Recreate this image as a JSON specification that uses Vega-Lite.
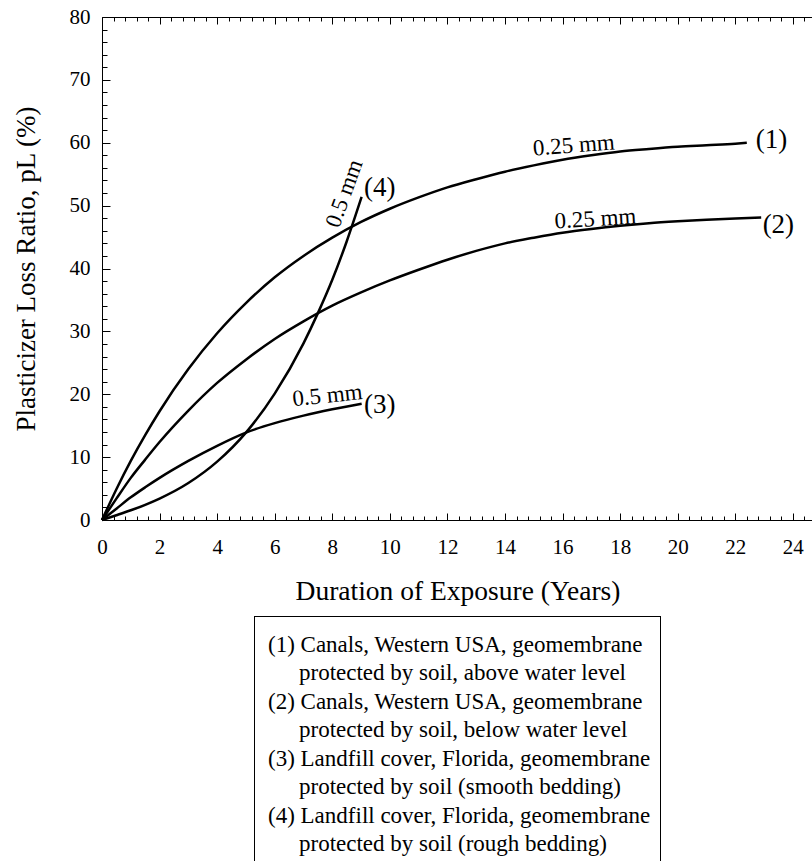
{
  "$schema": "https://vega.github.io/schema/vega-lite/v6.json",
  "background": "white",
  "padding": {"left": 12, "top": 6, "right": 0, "bottom": 0},
  "config": {
    "font": "Liberation Serif",
    "view": {"stroke": null},
    "axis": {"domainColor": "black", "tickColor": "black", "labelColor": "black", "titleColor": "black", "labelFont": "Liberation Serif", "titleFont": "Liberation Serif", "titleFontWeight": "normal", "grid": false, "domainWidth": 1, "tickWidth": 1},
    "text": {"font": "Liberation Serif", "color": "black"}
  },
  "datasets": {
    "curves": [
      {"curve": "1", "years": 0, "loss": 0}, {"curve": "1", "years": 0.5, "loss": 4.9}, {"curve": "1", "years": 1, "loss": 9.4}, {"curve": "1", "years": 1.5, "loss": 13.5}, {"curve": "1", "years": 2, "loss": 17.3}, {"curve": "1", "years": 3, "loss": 24.0}, {"curve": "1", "years": 4, "loss": 29.7}, {"curve": "1", "years": 5, "loss": 34.5}, {"curve": "1", "years": 6, "loss": 38.6}, {"curve": "1", "years": 7, "loss": 42.0}, {"curve": "1", "years": 8, "loss": 44.9}, {"curve": "1", "years": 9, "loss": 47.4}, {"curve": "1", "years": 10, "loss": 49.5}, {"curve": "1", "years": 11, "loss": 51.3}, {"curve": "1", "years": 12, "loss": 52.9}, {"curve": "1", "years": 13, "loss": 54.2}, {"curve": "1", "years": 14, "loss": 55.4}, {"curve": "1", "years": 15, "loss": 56.4}, {"curve": "1", "years": 16, "loss": 57.3}, {"curve": "1", "years": 17, "loss": 58.0}, {"curve": "1", "years": 18, "loss": 58.6}, {"curve": "1", "years": 19, "loss": 59.0}, {"curve": "1", "years": 20, "loss": 59.35}, {"curve": "1", "years": 21, "loss": 59.6}, {"curve": "1", "years": 22, "loss": 59.85}, {"curve": "1", "years": 22.4, "loss": 60.0},
      {"curve": "2", "years": 0, "loss": 0}, {"curve": "2", "years": 0.5, "loss": 3.4}, {"curve": "2", "years": 1, "loss": 6.7}, {"curve": "2", "years": 1.5, "loss": 9.6}, {"curve": "2", "years": 2, "loss": 12.4}, {"curve": "2", "years": 3, "loss": 17.4}, {"curve": "2", "years": 4, "loss": 21.8}, {"curve": "2", "years": 5, "loss": 25.5}, {"curve": "2", "years": 6, "loss": 28.8}, {"curve": "2", "years": 7, "loss": 31.6}, {"curve": "2", "years": 8, "loss": 34.1}, {"curve": "2", "years": 9, "loss": 36.2}, {"curve": "2", "years": 10, "loss": 38.1}, {"curve": "2", "years": 11, "loss": 39.8}, {"curve": "2", "years": 12, "loss": 41.4}, {"curve": "2", "years": 13, "loss": 42.8}, {"curve": "2", "years": 14, "loss": 44.0}, {"curve": "2", "years": 15, "loss": 44.9}, {"curve": "2", "years": 16, "loss": 45.7}, {"curve": "2", "years": 17, "loss": 46.3}, {"curve": "2", "years": 18, "loss": 46.8}, {"curve": "2", "years": 19, "loss": 47.2}, {"curve": "2", "years": 20, "loss": 47.5}, {"curve": "2", "years": 21, "loss": 47.75}, {"curve": "2", "years": 22, "loss": 47.95}, {"curve": "2", "years": 22.9, "loss": 48.1},
      {"curve": "3", "years": 0, "loss": 0}, {"curve": "3", "years": 0.5, "loss": 1.8}, {"curve": "3", "years": 1, "loss": 3.6}, {"curve": "3", "years": 1.5, "loss": 5.2}, {"curve": "3", "years": 2, "loss": 6.7}, {"curve": "3", "years": 3, "loss": 9.4}, {"curve": "3", "years": 4, "loss": 11.8}, {"curve": "3", "years": 5, "loss": 13.9}, {"curve": "3", "years": 6, "loss": 15.4}, {"curve": "3", "years": 7, "loss": 16.6}, {"curve": "3", "years": 8, "loss": 17.6}, {"curve": "3", "years": 9.02, "loss": 18.5},
      {"curve": "4", "years": 0, "loss": 0}, {"curve": "4", "years": 0.5, "loss": 0.76}, {"curve": "4", "years": 1, "loss": 1.55}, {"curve": "4", "years": 1.5, "loss": 2.42}, {"curve": "4", "years": 2, "loss": 3.41}, {"curve": "4", "years": 3, "loss": 5.88}, {"curve": "4", "years": 4, "loss": 9.28}, {"curve": "4", "years": 5, "loss": 13.9}, {"curve": "4", "years": 6, "loss": 20.1}, {"curve": "4", "years": 7, "loss": 28.1}, {"curve": "4", "years": 7.5, "loss": 32.9}, {"curve": "4", "years": 8, "loss": 38.2}, {"curve": "4", "years": 8.5, "loss": 44.3}, {"curve": "4", "years": 9.02, "loss": 51.4}
    ],
    "notes": [
      {"id": "t1", "x": 16.39, "y": 59.57, "text": "0.25 mm"},
      {"id": "t2", "x": 17.14, "y": 47.88, "text": "0.25 mm"},
      {"id": "t3", "x": 7.83, "y": 19.78, "text": "0.5 mm"},
      {"id": "t4", "x": 8.42, "y": 51.93, "text": "0.5 mm"},
      {"id": "n", "x": 22.71, "y": 60.37, "text": "(1)"},
      {"id": "n", "x": 22.95, "y": 46.84, "text": "(2)"},
      {"id": "n", "x": 9.1, "y": 18.27, "text": "(3)"},
      {"id": "n", "x": 9.1, "y": 52.81, "text": "(4)"}
    ],
    "legend": [
      {"line": 1, "text": "(1) Canals, Western USA, geomembrane"},
      {"line": 2, "text": "protected by soil, above water level"},
      {"line": 3, "text": "(2) Canals, Western USA, geomembrane"},
      {"line": 4, "text": "protected by soil, below water level"},
      {"line": 5, "text": "(3) Landfill cover, Florida, geomembrane"},
      {"line": 6, "text": "protected by soil (smooth bedding)"},
      {"line": 7, "text": "(4) Landfill cover, Florida, geomembrane"},
      {"line": 8, "text": "protected by soil (rough bedding)"}
    ]
  },
  "vconcat": [
    {
      "width": 711,
      "height": 503,
      "layer": [
        {
          "data": {"name": "curves"},
          "mark": {"type": "line", "color": "black", "strokeWidth": 2.5, "interpolate": "monotone"},
          "encoding": {
            "x": {"field": "years", "type": "quantitative", "scale": {"domain": [0, 24.7], "nice": false, "zero": false},
              "axis": {"orient": "bottom", "values": [0, 2, 4, 6, 8, 10, 12, 14, 16, 18, 20, 22, 24], "ticks": false, "domain": true, "labelFontSize": 21, "labelPadding": 16, "labelFlush": false, "labelOverlap": false, "format": "d", "title": "Duration of Exposure (Years)", "titleFontSize": 27.5, "titlePadding": 20}},
            "y": {"field": "loss", "type": "quantitative", "scale": {"domain": [0, 80], "nice": false},
              "axis": {"orient": "left", "values": [0, 10, 20, 30, 40, 50, 60, 70, 80], "ticks": false, "domain": true, "labelFontSize": 21, "labelPadding": 12, "labelFlush": false, "labelOverlap": false, "title": "Plasticizer Loss Ratio, pL (%)", "titleFontSize": 27, "titlePadding": 29}},
            "detail": {"field": "curve"}
          }
        },
        {
          "data": {"name": "curves"},
          "mark": {"type": "point", "opacity": 0, "size": 1},
          "encoding": {
            "x": {"field": "years", "type": "quantitative", "axis": {"orient": "bottom", "values": [0, 2, 4, 6, 8, 10, 12, 14, 16, 18, 20, 22, 24], "labels": false, "domain": false, "ticks": true, "tickSize": -7, "title": null}},
            "y": {"field": "loss", "type": "quantitative", "axis": {"orient": "left", "values": [0, 10, 20, 30, 40, 50, 60, 70, 80], "labels": false, "domain": false, "ticks": true, "tickSize": -8, "title": null}}
          }
        },
        {
          "data": {"name": "curves"},
          "mark": {"type": "point", "opacity": 0, "size": 1},
          "encoding": {
            "x": {"field": "years", "type": "quantitative", "axis": {"orient": "bottom", "values": [0.4,0.8,1.2,1.6,2.4,2.8,3.2,3.6,4.4,4.8,5.2,5.6,6.4,6.8,7.2,7.6,8.4,8.8,9.2,9.6,10.4,10.8,11.2,11.6,12.4,12.8,13.2,13.6,14.4,14.8,15.2,15.6,16.4,16.8,17.2,17.6,18.4,18.8,19.2,19.6,20.4,20.8,21.2,21.6,22.4,22.8,23.2,23.6,24.4], "labels": false, "domain": false, "ticks": true, "tickSize": -4, "title": null}},
            "y": {"field": "loss", "type": "quantitative", "axis": {"orient": "left", "values": [2,4,6,8,12,14,16,18,22,24,26,28,32,34,36,38,42,44,46,48,52,54,56,58,62,64,66,68,72,74,76,78], "labels": false, "domain": false, "ticks": true, "tickSize": -5, "title": null}}
          }
        },
        {
          "data": {"name": "curves"},
          "mark": {"type": "point", "opacity": 0, "size": 1},
          "encoding": {
            "x": {"field": "years", "type": "quantitative", "axis": {"orient": "top", "values": [0, 2, 4, 6, 8, 10, 12, 14, 16, 18, 20, 22, 24], "labels": false, "domain": true, "ticks": true, "tickSize": -7, "title": null}},
            "y": {"field": "loss", "type": "quantitative", "axis": null}
          }
        },
        {
          "data": {"name": "curves"},
          "mark": {"type": "point", "opacity": 0, "size": 1},
          "encoding": {
            "x": {"field": "years", "type": "quantitative", "axis": {"orient": "top", "values": [0.4,0.8,1.2,1.6,2.4,2.8,3.2,3.6,4.4,4.8,5.2,5.6,6.4,6.8,7.2,7.6,8.4,8.8,9.2,9.6,10.4,10.8,11.2,11.6,12.4,12.8,13.2,13.6,14.4,14.8,15.2,15.6,16.4,16.8,17.2,17.6,18.4,18.8,19.2,19.6,20.4,20.8,21.2,21.6,22.4,22.8,23.2,23.6,24.4], "labels": false, "domain": false, "ticks": true, "tickSize": -4, "title": null}},
            "y": {"field": "loss", "type": "quantitative", "axis": null}
          }
        },
        {
          "data": {"name": "notes"},
          "transform": [{"filter": "datum.id === 't1'"}],
          "mark": {"type": "text", "font": "Liberation Serif", "fontSize": 23, "angle": -4.5, "align": "center", "baseline": "middle"},
          "encoding": {"x": {"field": "x", "type": "quantitative", "axis": null}, "y": {"field": "y", "type": "quantitative", "axis": null}, "text": {"field": "text"}}
        },
        {
          "data": {"name": "notes"},
          "transform": [{"filter": "datum.id === 't2'"}],
          "mark": {"type": "text", "font": "Liberation Serif", "fontSize": 23, "angle": -3.5, "align": "center", "baseline": "middle"},
          "encoding": {"x": {"field": "x", "type": "quantitative", "axis": null}, "y": {"field": "y", "type": "quantitative", "axis": null}, "text": {"field": "text"}}
        },
        {
          "data": {"name": "notes"},
          "transform": [{"filter": "datum.id === 't3'"}],
          "mark": {"type": "text", "font": "Liberation Serif", "fontSize": 23, "angle": -6, "align": "center", "baseline": "middle"},
          "encoding": {"x": {"field": "x", "type": "quantitative", "axis": null}, "y": {"field": "y", "type": "quantitative", "axis": null}, "text": {"field": "text"}}
        },
        {
          "data": {"name": "notes"},
          "transform": [{"filter": "datum.id === 't4'"}],
          "mark": {"type": "text", "font": "Liberation Serif", "fontSize": 23, "angle": -70, "align": "center", "baseline": "middle"},
          "encoding": {"x": {"field": "x", "type": "quantitative", "axis": null}, "y": {"field": "y", "type": "quantitative", "axis": null}, "text": {"field": "text"}}
        },
        {
          "data": {"name": "notes"},
          "transform": [{"filter": "datum.id === 'n'"}],
          "mark": {"type": "text", "font": "Liberation Serif", "fontSize": 27, "align": "left", "baseline": "middle"},
          "encoding": {"x": {"field": "x", "type": "quantitative", "axis": null}, "y": {"field": "y", "type": "quantitative", "axis": null}, "text": {"field": "text"}}
        }
      ],
      "resolve": {"axis": {"x": "independent", "y": "independent"}}
    },
    {
      "width": 407,
      "height": 245,
      "data": {"name": "legend"},
      "layer": [
        {
          "mark": {"type": "rect", "fill": "white", "fillOpacity": 0, "stroke": "black", "strokeWidth": 2, "clip": true},
          "encoding": {
            "y": {"datum": -0.0175, "type": "quantitative", "scale": {"domain": [-0.0175, 8.579], "reverse": true, "nice": false, "zero": false}, "axis": null},
            "y2": {"datum": 8.7}
          }
        },
        {
          "transform": [{"filter": "datum.line % 2 === 1"}],
          "mark": {"type": "text", "font": "Liberation Serif", "align": "left", "baseline": "middle", "fontSize": 23, "dx": 14},
          "encoding": {
            "x": {"datum": 0, "type": "quantitative", "scale": {"domain": [0, 1], "nice": false, "zero": false}, "axis": null},
            "y": {"field": "line", "type": "quantitative", "axis": null},
            "text": {"field": "text"}
          }
        },
        {
          "transform": [{"filter": "datum.line % 2 === 0"}],
          "mark": {"type": "text", "font": "Liberation Serif", "align": "left", "baseline": "middle", "fontSize": 23, "dx": 45},
          "encoding": {
            "x": {"datum": 0, "type": "quantitative", "axis": null},
            "y": {"field": "line", "type": "quantitative", "axis": null},
            "text": {"field": "text"}
          }
        }
      ]
    }
  ],
  "bounds": "full",
  "center": true,
  "spacing": 11
}
